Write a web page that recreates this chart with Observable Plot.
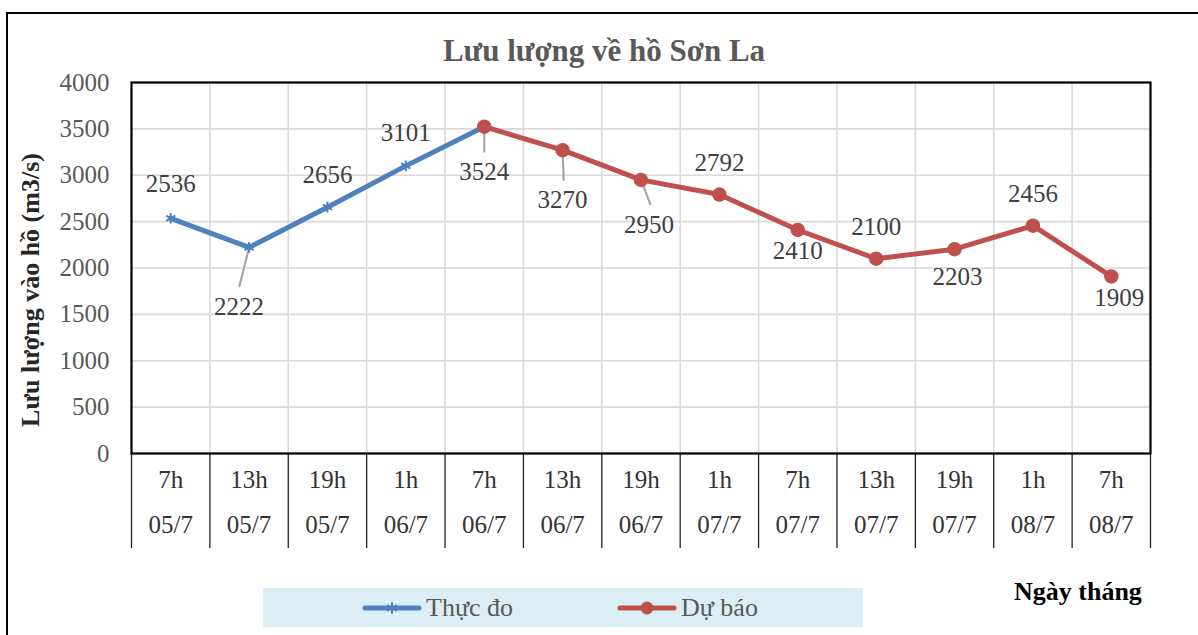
<!DOCTYPE html>
<html>
<head>
<meta charset="utf-8">
<script src="https://cdn.jsdelivr.net/npm/d3@7"></script>
<script src="https://cdn.jsdelivr.net/npm/@observablehq/plot@0.6"></script>
<style>
  html, body { margin: 0; padding: 0; background: #fff; }
  #wrap { position: relative; width: 1198px; height: 635px; overflow: hidden; font-family: "Liberation Serif", "Times New Roman", serif; }
  #border { position: absolute; left: 6px; top: 12px; width: 1300px; height: 700px; border-left: 2px solid #000; border-top: 2px solid #000; box-sizing: border-box; }
  #chart { position: absolute; left: 0; top: 0; }
  #chart svg, #chart svg text { font-family: "Liberation Serif", "Times New Roman", serif !important; }
  #title { position: absolute; left: 0; width: 1208px; top: 33px; text-align: center; font-weight: bold; font-size: 31px; color: #595959; }
  #ytitle { position: absolute; left: 31px; top: 290px; transform: translate(-50%, -50%) rotate(-90deg); white-space: nowrap; font-weight: bold; font-size: 26px; color: #262626; }
  #xtitle { position: absolute; left: 1014px; top: 577px; font-weight: bold; font-size: 26px; color: #000; }
  #legend { position: absolute; left: 263px; top: 588px; width: 600px; height: 39px; background: #dbeef4; }
  .item { position: absolute; top: 0; height: 39px; display: flex; align-items: center; font-size: 26px; color: #595959; }
  .item svg { margin-right: 4px; }
</style>
</head>
<body>
<div id="wrap">
  <div id="border"></div>
  <div id="chart"></div>
  <div id="title">Lưu lượng về hồ Sơn La</div>
  <div id="ytitle">Lưu lượng vào hồ (m3/s)</div>
  <div id="xtitle">Ngày tháng</div>
  <div id="legend"></div>
</div>
<script>
// ---- data ----
const hours = ["7h", "13h", "19h", "1h", "7h", "13h", "19h", "1h", "7h", "13h", "19h", "1h", "7h"];
const dates = ["05/7", "05/7", "05/7", "06/7", "06/7", "06/7", "06/7", "07/7", "07/7", "07/7", "07/7", "08/7", "08/7"];
const measuredValues = [2536, 2222, 2656, 3101, 3524];           // Thực đo, indices 0..4
const forecastValues = [3524, 3270, 2950, 2792, 2410, 2100, 2203, 2456, 1909]; // Dự báo, indices 4..12
const forecastStart = 4;
const yTicks = [0, 500, 1000, 1500, 2000, 2500, 3000, 3500, 4000];
const seriesNames = ["Thực đo", "Dự báo"];

// ---- styles ----
const BLUE = "#4f81bd";
const RED = "#c0504d";
const FONT = "Liberation Serif, Times New Roman, serif";
const FS = 25;

const measured = measuredValues.map((v, i) => ({i, v}));
const forecast = forecastValues.map((v, k) => ({i: k + forecastStart, v}));

// label table: all points, labelled once (3524 taken from measured)
const labelPoints = [...measured, ...forecast.slice(1)];
// label placement offsets (pixels), per point index
const labelOffsets = [[0,-34],[-10,60],[0,-32],[0,-33],[0,45],[0,50],[8,45],[0,-32],[0,21],[0,-32],[3,28],[0,-32],[8,22]];
// leader lines: [point index, length px, rotate deg]
const leaders = [[1, 40, 194], [4, 25, 180], [5, 30, 178], [6, 26, 159]];

const allPts = labelPoints;
const cx = d => d.i + 0.5;

const lineShape = {
  draw(context, l) { context.moveTo(0, 0); context.lineTo(0, -l); }
};

const plot = Plot.plot({
  width: 1198,
  height: 635,
  marginLeft: 131,
  marginRight: 48,
  marginTop: 82,
  marginBottom: 182,
  style: `font-family: ${FONT}; background: transparent;`,
  x: {domain: [0, hours.length], axis: null},
  y: {domain: [0, 4000], axis: null},
  marks: [
    Plot.gridY({ticks: yTicks, stroke: "#d9d9d9", strokeOpacity: 1, strokeWidth: 1.6}),
    Plot.gridX({ticks: d3.range(1, hours.length), stroke: "#d9d9d9", strokeOpacity: 1, strokeWidth: 1.6}),
    Plot.axisY({ticks: yTicks, tickSize: 0, tickPadding: 22, fontSize: FS, fontFamily: FONT, fill: "#595959", label: null, tickFormat: d => String(d)}),
    Plot.axisX({ticks: d3.range(0, hours.length + 1), tickSize: 95, tickFormat: () => "", stroke: "#222", strokeWidth: 1.3, label: null}),
    Plot.text(hours.map((h, i) => ({i, h})), {x: cx, text: "h", frameAnchor: "bottom", dy: 34, fontSize: FS, fontFamily: FONT, fill: "#333"}),
    Plot.text(dates.map((t, i) => ({i, t})), {x: cx, text: "t", frameAnchor: "bottom", dy: 79, fontSize: FS, fontFamily: FONT, fill: "#333"}),
    Plot.frame({stroke: "#000", strokeWidth: 2.2}),
    // leader lines
    ...leaders.map(([i, len, rot]) => Plot.vector([allPts[i]], {
      x: cx, y: "v", length: len, rotate: rot, anchor: "start", shape: lineShape,
      stroke: "#a6a6a6", strokeWidth: 2.2
    })),
    Plot.line(measured, {x: cx, y: "v", stroke: BLUE, strokeWidth: 5, strokeLinecap: "round"}),
    Plot.dot(measured, {x: cx, y: "v", symbol: "asterisk", r: 5, stroke: BLUE, strokeWidth: 2}),
    Plot.line(forecast, {x: cx, y: "v", stroke: RED, strokeWidth: 5, strokeLinecap: "round"}),
    Plot.dot(forecast, {x: cx, y: "v", r: 6.5, fill: RED, stroke: RED}),
    ...allPts.map((d, k) => Plot.text([d], {
      x: cx, y: "v", text: d => String(d.v), dx: labelOffsets[k][0], dy: labelOffsets[k][1],
      fontSize: FS, fontFamily: FONT, fill: "#404040"
    }))
  ]
});
document.getElementById("chart").appendChild(plot);

// legend
const legend = document.getElementById("legend");
function addItem(left, name, color, marker) {
  const div = document.createElement("div");
  div.className = "item";
  div.style.left = left + "px";
  const ns = "http://www.w3.org/2000/svg";
  const svg = document.createElementNS(ns, "svg");
  svg.setAttribute("width", 60); svg.setAttribute("height", 20);
  const ln = document.createElementNS(ns, "line");
  ln.setAttribute("x1", 3); ln.setAttribute("x2", 57); ln.setAttribute("y1", 10); ln.setAttribute("y2", 10);
  ln.setAttribute("stroke", color); ln.setAttribute("stroke-width", 5); ln.setAttribute("stroke-linecap", "round");
  svg.appendChild(ln);
  if (marker === "circle") {
    const c = document.createElementNS(ns, "circle");
    c.setAttribute("cx", 30); c.setAttribute("cy", 10); c.setAttribute("r", 6.5); c.setAttribute("fill", color);
    svg.appendChild(c);
  } else {
    const p = document.createElementNS(ns, "path");
    const s = d3.symbol(d3.symbolAsterisk, 90)();
    p.setAttribute("d", s); p.setAttribute("transform", "translate(30,10)");
    p.setAttribute("stroke", color); p.setAttribute("stroke-width", 2); p.setAttribute("fill", "none");
    svg.appendChild(p);
  }
  div.appendChild(svg);
  const span = document.createElement("span");
  span.textContent = name;
  div.appendChild(span);
  legend.appendChild(div);
}
addItem(365 - 263 - 3, seriesNames[0], BLUE, "asterisk");
addItem(620 - 263 - 3, seriesNames[1], RED, "circle");
</script>
</body>
</html>
